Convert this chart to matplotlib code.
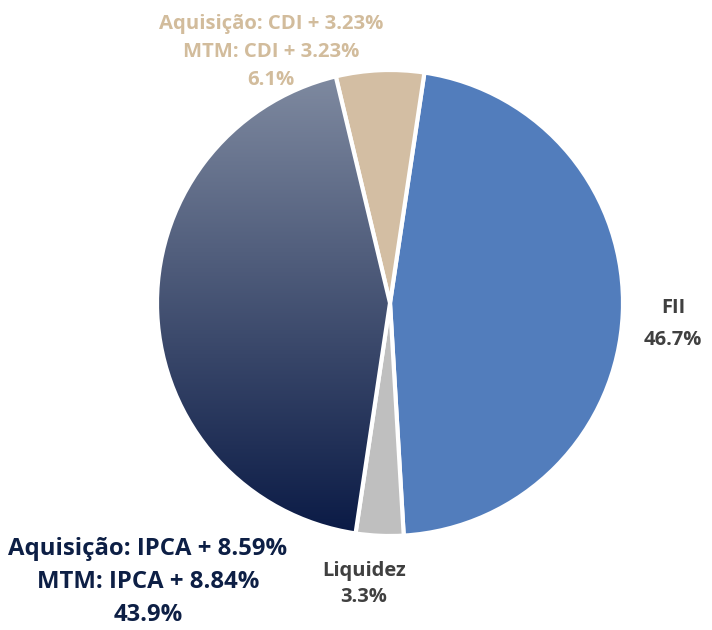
import numpy as np
import matplotlib.pyplot as plt
from matplotlib.colors import LinearSegmentedColormap

# dados
labels = ["FII", "Liquidez", "Aquisição: IPCA + 8.59%\nMTM: IPCA + 8.84%", "Aquisição: CDI + 3.23%\nMTM: CDI + 3.23%"]
shares = [46.7, 3.3, 43.9, 6.1]
colors = ["#527dbc", "#bfbfbf", "#3a4a6b", "#d3bea3"]
text_colors = ["#404040", "#404040", "#0d1f45", "#d2bc9c"]

plt.rcParams['font.family'] = 'Open Sans'

fig = plt.figure(figsize=(7.12, 6.3), dpi=100)
ax = fig.add_axes([0, 0, 1, 1])

cx, cy, r = 390, 327, 233
wedges, _ = ax.pie(shares, colors=colors, startangle=81.5, counterclock=False,
                   center=(cx, cy), radius=r, frame=True,
                   wedgeprops=dict(edgecolor="white", linewidth=3))

# gradiente na fatia IPCA
cmap = LinearSegmentedColormap.from_list("ipca", ["#0a1a45", "#808ba1"])
grad = np.linspace(0, 1, 256).reshape(-1, 1)
img = ax.imshow(grad, cmap=cmap, origin="lower", aspect="auto",
                extent=(cx - r, cx, cy - r, cy + r), zorder=wedges[2].get_zorder())
img.set_clip_path(wedges[2])
wedges[2].set_facecolor("none")
wedges[2].set_zorder(img.get_zorder() + 0.1)

ax.set_xlim(0, 712)
ax.set_ylim(0, 630)
ax.axis("off")

# rótulos
ax.text(673, 306, f"{labels[0]}\n{shares[0]}%", ha="center", va="center", fontsize=14.5,
        fontweight="bold", color=text_colors[0], linespacing=1.75)
ax.text(364, 46, f"{labels[1]}\n{shares[1]}%", ha="center", va="center", fontsize=14.5,
        fontweight="bold", color=text_colors[1], linespacing=1.45)
ax.text(148, 48, f"{labels[2]}\n{shares[2]}%", ha="center", va="center",
        fontsize=17.2, fontweight="bold", color=text_colors[2], linespacing=1.52)
ax.text(271, 578, f"{labels[3]}\n{shares[3]}%", ha="center", va="center",
        fontsize=14.6, fontweight="bold", color=text_colors[3], linespacing=1.52)

fig.savefig("out.png", dpi=100)
